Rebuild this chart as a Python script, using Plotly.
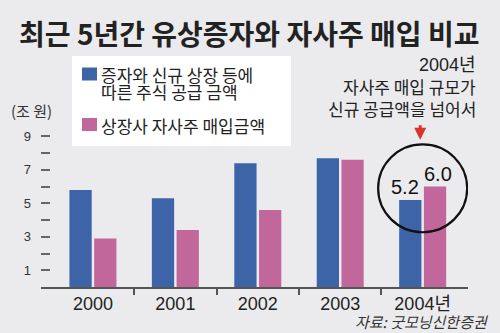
import plotly.graph_objects as go

# ---- data (조 원) ----
years = ["2000", "2001", "2002", "2003", "2004년"]
supply = [5.8, 5.3, 7.4, 7.7, 5.2]      # 증자와 신규 상장 등에 따른 주식 공급 금액
buyback = [2.9, 3.4, 4.6, 7.6, 6.0]     # 상장사 자사주 매입금액
highlight_year = "2004년"
ytick_vals = [1, 2, 3, 4, 5, 6, 7, 8, 9]
ytick_text = ["1", "", "3", "", "5", "", "7", "", "9"]

BG = "#ebebed"
BLUE = "#3c64a6"
PINK = "#c2679b"
INK = "#222222"
FONT = "Liberation Sans, Noto Sans CJK KR, sans-serif"
KFONT = "Noto Sans CJK KR, sans-serif"

W, H = 500, 333
ML, MR, MT, MB = 41, 32, 126, 46
PW, PH = W - ML - MR, H - MT - MB


def px(x):
    return (x - ML) / PW


def py(y):
    return (H - MB - y) / PH


XR = [-0.63, 4.55]
YR = [0, 9.62]

fig = go.Figure()
fig.add_trace(go.Bar(
    x=years, y=supply, marker=dict(color=BLUE, line=dict(width=0)),
    showlegend=False, hoverinfo="skip",
))
fig.add_trace(go.Bar(
    x=years, y=buyback, marker=dict(color=PINK, line=dict(width=0)),
    showlegend=False, hoverinfo="skip",
))
# invisible trace carrying the category separator axis
fig.add_trace(go.Scatter(x=[0], y=[0], xaxis="x2", mode="markers",
                         marker=dict(opacity=0), showlegend=False,
                         hoverinfo="skip"))

shapes = [
    # legend box
    dict(type="rect", xref="paper", yref="paper",
         x0=px(72), x1=px(291), y0=py(146), y1=py(56),
         fillcolor="white", line=dict(width=0), layer="above"),
    dict(type="rect", xref="paper", yref="paper",
         x0=px(82), x1=px(97), y0=py(80.5), y1=py(67.5),
         fillcolor=BLUE, line=dict(width=0), layer="above"),
    dict(type="rect", xref="paper", yref="paper",
         x0=px(82), x1=px(97), y0=py(131), y1=py(118),
         fillcolor=PINK, line=dict(width=0), layer="above"),
    # highlight ring around 2004
    dict(type="circle", xref="x", yref="y",
         x0=3.46, x1=4.54, y0=3.27, y1=8.52,
         line=dict(color="#111", width=2.2), fillcolor="rgba(0,0,0,0)",
         layer="above"),
]


def note(text, x, y, anchor="left", size=17, color=INK, family=KFONT):
    return dict(text=text, xref="paper", yref="paper", x=px(x), y=py(y),
                xanchor=anchor, yanchor="middle", showarrow=False,
                font=dict(family=family, size=size, color=color))


i_hl = years.index(highlight_year)


def value_label(value, xshift):
    return dict(text=f"{value:.1f}", xref="x", yref="y",
                x=highlight_year, y=value, xanchor="center",
                yanchor="bottom", xshift=xshift, yshift=0,
                showarrow=False,
                font=dict(family=FONT, size=20, color="#111"))


annotations = [
    note("<b>최근 5년간 유상증자와 자사주 매입 비교</b>", 249, 33,
         anchor="center", size=28),
    note("증자와 신규 상장 등에", 99, 74),
    note("따른 주식 공급 금액", 99, 91.5),
    note("상장사 자사주 매입금액", 99, 125),
    note("2004년", 478, 65, anchor="right", family=FONT, size=18),
    note("자사주 매입 규모가", 478, 86, anchor="right"),
    note("신규 공급액을 넘어서", 478, 108, anchor="right"),
    note("(조 원)", 31, 110, anchor="center", size=15, color="#333"),
    note("<i>자료: 굿모닝신한증권</i>", 491, 321, anchor="right", size=15,
         color="#333"),
    value_label(supply[i_hl], -18),
    value_label(buyback[i_hl], 15),
    # red pointer
    dict(text="", xref="x", yref="y", x=3.97, y=8.8,
         ax=0, ay=-16, showarrow=True, arrowhead=2, arrowsize=0.8,
         arrowwidth=3, arrowcolor="#d9342b"),
]

fig.update_layout(
    width=W, height=H,
    margin=dict(l=ML, r=MR, t=MT, b=MB, pad=0),
    paper_bgcolor=BG, plot_bgcolor=BG,
    barmode="group", bargap=0.4, bargroupgap=0.1,
    font=dict(family=FONT, color=INK),
    shapes=shapes, annotations=annotations,
    xaxis=dict(type="category", range=XR, showgrid=False, zeroline=False,
               showline=True, linecolor="#555", linewidth=1.5,
               ticks="", tickfont=dict(family=FONT, size=18, color=INK),
               ticklabelstandoff=0, fixedrange=True),
    xaxis2=dict(overlaying="x", anchor="y", side="bottom", type="linear",
                range=XR, tickvals=[0.5, 1.5, 2.5, 3.5], ticks="outside",
                ticklen=7, tickwidth=1.5, tickcolor="#555",
                showticklabels=False, showgrid=False, zeroline=False,
                showline=False, fixedrange=True),
    yaxis=dict(range=YR, tickvals=ytick_vals, ticktext=ytick_text,
               ticks="inside", ticklen=9, tickwidth=1.5, tickcolor="#666",
               showgrid=False, zeroline=False, showline=False,
               tickfont=dict(family=FONT, size=13, color="#333"),
               ticklabelstandoff=9, fixedrange=True),
)

fig.write_html("out.html", config={"displayModeBar": False})
